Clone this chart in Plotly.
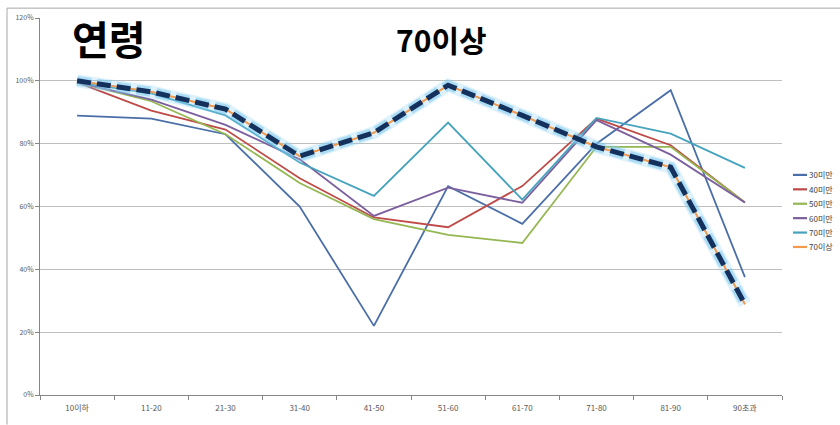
import plotly.graph_objects as go

# Age brackets on the category axis
age_groups = ["10이하", "11-20", "21-30", "31-40", "41-50",
              "51-60", "61-70", "71-80", "81-90", "90초과"]

# Ratio (%) per age bracket for each group
under_30 = [88.9, 88.0, 83.0, 60.0, 22.0, 66.5, 54.5, 80.0, 97.0, 37.5]
under_40 = [99.5, 90.5, 84.5, 69.0, 56.5, 53.4, 66.5, 88.0, 79.5, 61.3]
under_50 = [99.5, 93.5, 83.0, 67.5, 56.0, 51.0, 48.4, 79.0, 79.0, 61.3]
under_60 = [99.5, 94.0, 86.0, 75.0, 57.0, 66.0, 61.2, 87.5, 76.5, 61.3]
under_70 = [99.5, 96.0, 89.0, 74.0, 63.4, 86.7, 62.2, 88.2, 83.2, 72.3]
over_70 = [100.0, 96.5, 91.0, 76.0, 83.5, 98.6, 89.0, 79.0, 72.5, 28.9]

series_names = ["30미만", "40미만", "50미만", "60미만", "70미만", "70이상"]
series_values = [under_30, under_40, under_50, under_60, under_70, over_70]
series_colors = ["#4A6EA8", "#BE4B48", "#94B752", "#7B5F9E", "#45A3BE", "#F39A4E"]

y_ticks = [0, 20, 40, 60, 80, 100, 120]

W, H = 840, 425
ML, MR, MT, MB = 40, 58, 15, 28
PW, PH = W - ML - MR, H - MT - MB


def px(x):
    return (x - ML) / PW


def py(y):
    return (H - MB - y) / PH


FONT = "Noto Sans CJK KR"

fig = go.Figure()

for name, vals, col in zip(series_names, series_values, series_colors):
    fig.add_trace(go.Scatter(
        x=age_groups, y=vals, name=name, mode="lines",
        line=dict(color=col, width=1.8), showlegend=False,
    ))

# Highlight for the 70이상 line: soft glow plus a heavy dashed stroke
fig.add_trace(go.Scatter(
    x=age_groups, y=over_70, mode="lines", showlegend=False, hoverinfo="skip",
    line=dict(color="rgba(140,210,242,0.28)", width=13),
))
fig.add_trace(go.Scatter(
    x=age_groups, y=over_70, mode="lines", showlegend=False, hoverinfo="skip",
    line=dict(color="rgba(125,203,240,0.55)", width=10, dash="14px,6px"),
))
fig.add_trace(go.Scatter(
    x=age_groups, y=over_70, mode="lines", showlegend=False, hoverinfo="skip",
    line=dict(color=series_colors[-1], width=1.6),
))
fig.add_trace(go.Scatter(
    x=age_groups, y=over_70, mode="lines", showlegend=False, hoverinfo="skip",
    line=dict(color="#14305C", width=5, dash="14px,6px"),
))

shapes = []
annotations = []

# Outer chart frame
frame_col = "#A6A6A6"
shapes.append(dict(type="line", xref="paper", yref="paper",
                   x0=px(7), x1=px(W + 2), y0=py(5), y1=py(5),
                   line=dict(color=frame_col, width=1)))
shapes.append(dict(type="line", xref="paper", yref="paper",
                   x0=px(7), x1=px(7), y0=py(5), y1=py(H + 2),
                   line=dict(color=frame_col, width=1)))

# Legend drawn by hand for compact entries
leg_top, leg_step = 174, 14.6
for i, (name, col) in enumerate(zip(series_names, series_colors)):
    yy = leg_top + i * leg_step
    shapes.append(dict(type="line", xref="paper", yref="paper",
                       x0=px(793), x1=px(807), y0=py(yy), y1=py(yy),
                       line=dict(color=col, width=2.2)))
    annotations.append(dict(xref="paper", yref="paper", x=px(807.5), y=py(yy),
                            text=name, showarrow=False, xanchor="left",
                            yanchor="middle", borderpad=0,
                            font=dict(family=FONT, size=8, color="#404040")))

# Titles
annotations.append(dict(xref="paper", yref="paper", x=px(109), y=py(35),
                        text="<b>연령</b>", showarrow=False,
                        xanchor="center", yanchor="middle",
                        font=dict(family=FONT, size=40, color="#000000")))
annotations.append(dict(xref="paper", yref="paper", x=px(441), y=py(36),
                        text="<b>70이상</b>", showarrow=False,
                        xanchor="center", yanchor="middle",
                        font=dict(family=FONT, size=30, color="#000000")))

fig.update_layout(
    width=W, height=H,
    margin=dict(l=ML, r=MR, t=MT, b=MB, pad=0),
    paper_bgcolor="white", plot_bgcolor="white",
    shapes=shapes, annotations=annotations,
    showlegend=False,
    xaxis=dict(
        type="category", range=[-0.5, 9.5], showgrid=False,
        showline=True, linecolor="#868686", linewidth=1,
        ticks="outside", tickson="boundaries", ticklen=4, tickcolor="#868686",
        tickfont=dict(family=FONT, size=8, color="#595959"),
        ticklabelstandoff=5,
        zeroline=False,
    ),
    yaxis=dict(
        range=[0, 120], tickvals=y_ticks,
        ticktext=[f"{v}%" for v in y_ticks],
        showgrid=True, gridcolor="#BFBFBF", gridwidth=1,
        showline=True, linecolor="#868686", linewidth=1,
        ticks="outside", ticklen=4, tickcolor="#868686",
        tickfont=dict(family=FONT, size=7, color="#595959"),
        zeroline=False,
    ),
)

fig.write_html("out.html")
